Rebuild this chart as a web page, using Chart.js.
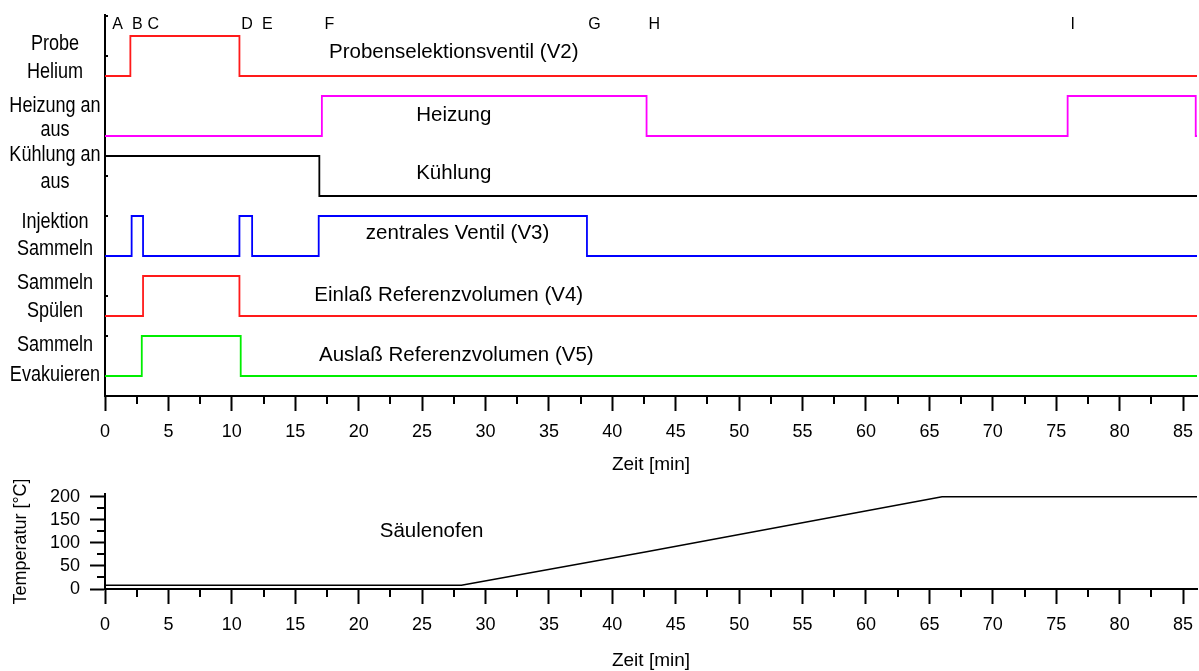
<!DOCTYPE html>
<html>
<head>
<meta charset="utf-8">
<script src="https://cdn.jsdelivr.net/npm/chart.js@4.4.1/dist/chart.umd.min.js"></script>
<style>
  html, body { margin: 0; padding: 0; background: #fff; overflow: hidden; }
  #valves { position: absolute; left: 0; top: 0; }
  #oven   { position: absolute; left: 0; top: 480px; }
</style>
</head>
<body>
<canvas id="valves" width="1199" height="480"></canvas>
<canvas id="oven" width="1199" height="192"></canvas>
<script>
/* ─── DATA ─── */
const X_MAX = 86.1;
const xTicks = [0, 5, 10, 15, 20, 25, 30, 35, 40, 45, 50, 55, 60, 65, 70, 75, 80, 85];

// switching times [min] and states (0 = low, 1 = high) per valve track
const probeTimes   = [0, 2.0, 10.6, 86.1];
const probeStates  = [0, 1, 0, 0];
const heatTimes    = [0, 17.1, 42.7, 75.9, 86.0, 86.1];
const heatStates   = [0, 1, 0, 1, 0, 0];
const coolTimes    = [0, 16.9, 86.1];
const coolStates   = [1, 0, 0];
const v3Times      = [0, 2.1, 3.0, 10.6, 11.6, 16.85, 38.0, 86.1];
const v3States     = [0, 1, 0, 1, 0, 1, 0, 0];
const v4Times      = [0, 3.0, 10.6, 86.1];
const v4States     = [0, 1, 0, 0];
const v5Times      = [0, 2.9, 10.7, 86.1];
const v5States     = [0, 1, 0, 0];

const trackBase   = [16, 13, 10, 7, 4, 1];
const trackColors = ['#ff1a1a', '#ff00ff', '#000000', '#0000ff', '#ff1a1a', '#00ee00'];

const trackNames  = ['Probenselektionsventil (V2)', 'Heizung', 'Kühlung',
                     'zentrales Ventil (V3)', 'Einlaß Referenzvolumen (V4)', 'Auslaß Referenzvolumen (V5)'];
const trackNameX  = [27.5, 27.5, 27.5, 27.8, 27.1, 27.7];
const trackNameY  = [17.2, 14.05, 11.15, 8.15, 5.05, 2.05];

const laneLabels  = ['Probe', 'Helium', 'Heizung an', 'aus', 'Kühlung an', 'aus',
                     'Injektion', 'Sammeln', 'Sammeln', 'Spülen', 'Sammeln', 'Evakuieren'];
const laneLabelY  = [17.6, 16.2, 14.5, 13.3, 12.05, 10.7, 8.7, 7.35, 5.65, 4.25, 2.57, 1.07];

const eventLetters = ['A', 'B', 'C', 'D', 'E', 'F', 'G', 'H', 'I'];
const eventTimes   = [1.0, 2.55, 3.8, 11.2, 12.8, 17.7, 38.6, 43.3, 76.3];
const EVENT_Y = 18.55;

// column oven temperature
const tempTimes  = [0, 28.1, 42.7, 66.0, 86.1];
const tempValues = [8, 8, 81, 200, 200];
const tempTicks  = [0, 50, 100, 150, 200];

const FONT = "'Liberation Sans', Arial, sans-serif";
Chart.defaults.font.family = FONT;
Chart.defaults.color = '#000';

/* ─── HELPERS ─── */
function track(times, states, base) {
  return times.map((t, i) => ({ x: t, y: base + states[i] * 2 }));
}

function timeAxis(height, titlePad) {
  return {
    type: 'linear', min: 0, max: X_MAX,
    afterBuildTicks: s => { s.ticks = xTicks.map(v => ({ value: v })); },
    afterFit: s => { s.height = height; s.paddingLeft = 0; s.paddingRight = 0; },
    ticks: { color: '#000', font: { size: 18 }, padding: 10, maxRotation: 0, autoSkip: false,
             callback: v => String(v) },
    grid: { display: true, drawOnChartArea: false, drawTicks: true, tickLength: 15,
            tickColor: '#000', tickWidth: 2 },
    border: { display: true, color: '#000', width: 2 },
    title: { display: true, text: 'Zeit [min]', color: '#000', font: { size: 19 },
             padding: { top: 0, bottom: titlePad } }
  };
}

// short minor ticks + free text, drawn through the chart's own scales
const decorPlugin = {
  id: 'decor',
  afterDraw(chart, args, opts) {
    const { ctx, scales: { x, y } } = chart;
    ctx.save();
    ctx.strokeStyle = '#000';
    ctx.lineWidth = 2;
    // x minor ticks
    for (let v = 2.5; v < X_MAX; v += 5) {
      const px = Math.round(x.getPixelForValue(v));
      ctx.beginPath(); ctx.moveTo(px, x.top); ctx.lineTo(px, x.top + 8); ctx.stroke();
    }
    (opts.yMinor || []).forEach(v => {
      const py = Math.round(y.getPixelForValue(v));
      ctx.beginPath(); ctx.moveTo(y.right, py); ctx.lineTo(y.right - 8, py); ctx.stroke();
    });
    (opts.yInner || []).forEach(v => {
      const py = Math.round(y.getPixelForValue(v));
      ctx.beginPath(); ctx.moveTo(y.right, py); ctx.lineTo(y.right + 3, py); ctx.stroke();
    });
    ctx.fillStyle = '#000';
    ctx.textBaseline = 'middle';
    (opts.texts || []).forEach(t => {
      ctx.font = t.font;
      ctx.textAlign = 'center';
      ctx.fillText(t.text, x.getPixelForValue(t.x), y.getPixelForValue(t.y));
    });
    // lane labels, condensed, left of the axis
    (opts.lanes || []).forEach(t => {
      ctx.save();
      ctx.font = '22px ' + FONT;
      ctx.textAlign = 'center';
      ctx.translate(55, y.getPixelForValue(t.y));
      ctx.scale(0.82, 1);
      ctx.fillText(t.text, 0, 0);
      ctx.restore();
    });
    ctx.restore();
  }
};

/* ─── 1. VALVE TIMING CHART ─── */
const trackTimes  = [probeTimes, heatTimes, coolTimes, v3Times, v4Times, v5Times];
const trackStates = [probeStates, heatStates, coolStates, v3States, v4States, v5States];

const valveTexts = [];
trackNames.forEach((n, i) => valveTexts.push({ text: n, x: trackNameX[i], y: trackNameY[i], font: '20.5px ' + FONT }));
eventLetters.forEach((l, i) => valveTexts.push({ text: l, x: eventTimes[i], y: EVENT_Y, font: '16px ' + FONT }));

new Chart(document.getElementById('valves'), {
  type: 'line',
  data: {
    datasets: trackTimes.map((times, i) => ({
      data: track(times, trackStates[i], trackBase[i]),
      borderColor: trackColors[i],
      borderWidth: 1.8,
      stepped: 'before',
      pointRadius: 0,
      fill: false
    }))
  },
  options: {
    responsive: false,
    animation: false,
    layout: { padding: { top: 15, right: 2, left: 0, bottom: 0 } },
    plugins: {
      legend: { display: false },
      tooltip: { enabled: false },
      decor: {
        texts: valveTexts,
        lanes: laneLabels.map((t, i) => ({ text: t, y: laneLabelY[i] })),
        yInner: [3, 5, 9, 11, 12, 17, 19]
      }
    },
    scales: {
      x: timeAxis(84, 4),
      y: {
        type: 'linear', min: 0, max: 19.05,
        afterFit: s => { s.width = 105; },
        ticks: { display: false },
        grid: { display: false },
        border: { display: true, color: '#000', width: 2 }
      }
    }
  },
  plugins: [decorPlugin]
});

/* ─── 2. COLUMN OVEN TEMPERATURE ─── */
new Chart(document.getElementById('oven'), {
  type: 'line',
  data: {
    datasets: [{
      data: tempTimes.map((t, i) => ({ x: t, y: tempValues[i] })),
      borderColor: '#000',
      borderWidth: 1.5,
      pointRadius: 0,
      tension: 0,
      fill: false
    }]
  },
  options: {
    responsive: false,
    animation: false,
    layout: { padding: { top: 14, right: 2, left: 0, bottom: 0 } },
    plugins: {
      legend: { display: false },
      tooltip: { enabled: false },
      decor: {
        texts: [{ text: 'Säulenofen', x: 25.75, y: 124, font: '20.5px ' + FONT }],
        yMinor: [25, 75, 125, 175]
      }
    },
    scales: {
      x: timeAxis(83, 0),
      y: {
        type: 'linear', min: 0, max: 206,
        afterFit: s => { s.width = 105; s.paddingTop = 0; s.paddingBottom = 0; },
        afterBuildTicks: s => { s.ticks = tempTicks.map(v => ({ value: v })); },
        ticks: { color: '#000', font: { size: 18 }, padding: 10, autoSkip: false },
        grid: { display: true, drawOnChartArea: false, tickLength: 15, tickColor: '#000', tickWidth: 2 },
        border: { display: true, color: '#000', width: 2 },
        title: { display: true, text: 'Temperatur [°C]', color: '#000', font: { size: 18 },
                 padding: { top: 10, bottom: 0 } }
      }
    }
  },
  plugins: [decorPlugin]
});
</script>
</body>
</html>
